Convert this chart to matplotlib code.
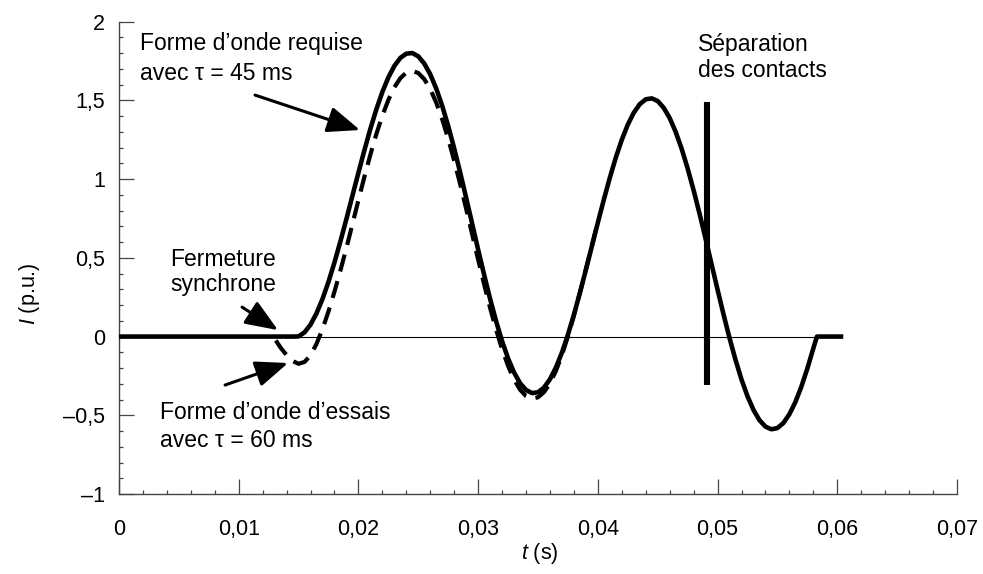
import matplotlib
matplotlib.use("Agg")
import matplotlib.pyplot as plt
from matplotlib.ticker import MultipleLocator, FixedLocator, FixedFormatter

plt.rcParams['font.family'] = ['Liberation Sans', 'DejaVu Sans']
plt.rcParams['mathtext.fontset'] = 'custom'
plt.rcParams['mathtext.it'] = 'Liberation Sans:italic'
plt.rcParams['mathtext.rm'] = 'Liberation Sans'

# ---- data (time in ms, current in p.u.) ----
solid_t_ms = [0.0,
    14.5, 15.0, 15.5, 16.0, 16.5, 17.0, 17.5, 18.0, 18.5, 19.0,
    19.5, 20.0, 20.5, 21.0, 21.5, 22.0, 22.5, 23.0, 23.5, 24.0,
    24.5, 25.0, 25.5, 26.0, 26.5, 27.0, 27.5, 28.0, 28.5, 29.0,
    29.5, 30.0, 30.5, 31.0, 31.5, 32.0, 32.5, 33.0, 33.5, 34.0,
    34.5, 35.0, 35.5, 36.0, 36.5, 37.0, 37.5, 38.0, 38.5, 39.0,
    39.5, 40.0, 40.5, 41.0, 41.5, 42.0, 42.5, 43.0, 43.5, 44.0,
    44.5, 45.0, 45.5, 46.0, 46.5, 47.0, 47.5, 48.0, 48.5, 49.0,
    49.5, 50.0, 50.5, 51.0, 51.5, 52.0, 52.5, 53.0, 53.5, 54.0,
    54.5, 55.0, 55.5, 56.0, 56.5, 57.0, 57.5, 58.0,
    58.3, 60.5]
solid_i = [0.0,
    0.000, 0.001, 0.027, 0.076, 0.148, 0.239, 0.348, 0.471, 0.606, 0.748,
    0.895, 1.041, 1.184, 1.320, 1.444, 1.554, 1.646, 1.719, 1.770, 1.797,
    1.801, 1.780, 1.734, 1.666, 1.575, 1.465, 1.337, 1.195, 1.042, 0.881,
    0.717, 0.552, 0.392, 0.239, 0.098, -0.029, -0.139, -0.228, -0.296, -0.339,
    -0.359, -0.354, -0.324, -0.271, -0.196, -0.101, 0.012, 0.139, 0.278, 0.424,
    0.574, 0.724, 0.870, 1.009, 1.137, 1.250, 1.346, 1.422, 1.476, 1.507,
    1.513, 1.496, 1.453, 1.388, 1.300, 1.193, 1.068, 0.929, 0.779, 0.621,
    0.459, 0.298, 0.140, -0.010, -0.148, -0.273, -0.379, -0.466, -0.531, -0.572,
    -0.589, -0.581, -0.549, -0.493, -0.416, -0.318, -0.203, -0.074,
    0.0, 0.0]

test_t_ms = [12.9,
    13.0, 13.5, 14.0, 14.5, 15.0, 15.5, 16.0, 16.5, 17.0, 17.5,
    18.0, 18.5, 19.0, 19.5, 20.0, 20.5, 21.0, 21.5, 22.0, 22.5,
    23.0, 23.5, 24.0, 24.5, 25.0, 25.5, 26.0, 26.5, 27.0, 27.5,
    28.0, 28.5, 29.0, 29.5, 30.0, 30.5, 31.0, 31.5, 32.0, 32.5,
    33.0, 33.5, 34.0, 34.5, 35.0, 35.5, 36.0, 36.5, 37.0, 37.5,
    38.0, 38.5, 39.0, 39.5, 40.0]
test_i = [0.0,
    -0.013, -0.071, -0.118, -0.155, -0.173, -0.161, -0.119, -0.046, 0.048, 0.160,
    0.286, 0.421, 0.564, 0.715, 0.866, 1.015, 1.156, 1.287, 1.403, 1.503,
    1.583, 1.641, 1.677, 1.688, 1.674, 1.635, 1.572, 1.486, 1.380, 1.256,
    1.117, 0.968, 0.811, 0.650, 0.489, 0.332, 0.182, 0.044, -0.080, -0.186,
    -0.273, -0.337, -0.378, -0.394, -0.386, -0.353, -0.297, -0.218, -0.117, 0.001,
    0.134, 0.277, 0.427, 0.578, 0.728]

separation_t_ms = 49.1
separation_i = [-0.31, 1.49]
zero_line_t_ms = [0.0, 58.3]

x_ticks = [0.0, 0.01, 0.02, 0.03, 0.04, 0.05, 0.06, 0.07]
x_labels = ['0', '0,01', '0,02', '0,03', '0,04', '0,05', '0,06', '0,07']
y_ticks = [-1.0, -0.5, 0.0, 0.5, 1.0, 1.5, 2.0]
y_labels = ['\u20131', '\u20130,5', '0', '0,5', '1', '1,5', '2']

# ---- figure ----
W, H = 983, 574
fig = plt.figure(figsize=(W / 100, H / 100), dpi=100)
ax = fig.add_axes([119 / W, 80 / H, (957 - 119) / W, (552.3 - 80) / H])

ms = 1e-3
ax.plot([t * ms for t in zero_line_t_ms], [0, 0], color='black', lw=0.8, zorder=2)
ax.plot([t * ms for t in solid_t_ms], solid_i, color='black', lw=3.3,
        solid_capstyle='butt', solid_joinstyle='round', zorder=3)
ax.plot([t * ms for t in test_t_ms], test_i, color='black', lw=3.0,
        linestyle=(5.5, (4.2, 2.4)), dash_capstyle='butt', zorder=4)
ax.plot([separation_t_ms * ms] * 2, separation_i, color='black', lw=4.4,
        solid_capstyle='butt', zorder=4)

ax.set_xlim(0, 0.07)
ax.set_ylim(-1, 2)

for s in ['top', 'right']:
    ax.spines[s].set_visible(False)
for s in ['left', 'bottom']:
    ax.spines[s].set_color('#444444')
    ax.spines[s].set_linewidth(1.0)

ax.xaxis.set_major_locator(FixedLocator(x_ticks))
ax.xaxis.set_major_formatter(FixedFormatter(x_labels))
ax.xaxis.set_minor_locator(MultipleLocator(0.002))
ax.yaxis.set_major_locator(FixedLocator(y_ticks))
ax.yaxis.set_major_formatter(FixedFormatter(y_labels))
ax.yaxis.set_minor_locator(MultipleLocator(0.1))

ax.tick_params(which='major', direction='in', length=10.5, width=0.9,
               color='#444444', labelsize=15.5)
ax.tick_params(axis='x', which='major', pad=18)
ax.tick_params(axis='y', which='major', pad=10)
ax.tick_params(which='minor', direction='in', length=3, width=0.9, color='#444444')

fig.text(540 / W, 1 - 553 / H, r'$\mathit{t}$ (s)', ha='center', va='center', fontsize=15.5)
fig.text(30 / W, 1 - 294 / H, r'$\mathit{I}$ (p.u.)', ha='center', va='center',
         fontsize=15.5, rotation=90)

fs = 16.5
ax.text(1.75 * ms, 1.820, 'Forme d\u2019onde requise', fontsize=fs, va='baseline', ha='left')
ax.text(1.75 * ms, 1.630, 'avec \u03c4 = 45 ms', fontsize=fs, va='baseline', ha='left')
ax.text(8.71 * ms, 0.448, 'Fermeture', fontsize=fs, va='baseline', ha='center')
ax.text(8.71 * ms, 0.289, 'synchrone', fontsize=fs, va='baseline', ha='center')
ax.text(3.43 * ms, -0.526, 'Forme d\u2019onde d\u2019essais', fontsize=fs, va='baseline', ha='left')
ax.text(3.43 * ms, -0.700, 'avec \u03c4 = 60 ms', fontsize=fs, va='baseline', ha='left')
ax.text(48.4 * ms, 1.816, 'S\u00e9paration', fontsize=fs, va='baseline', ha='left')
ax.text(48.4 * ms, 1.651, 'des contacts', fontsize=fs, va='baseline', ha='left')

arrow_kw = dict(arrowstyle='-|>,head_length=0.95,head_width=0.38', lw=2.2,
                color='black', mutation_scale=21, shrinkA=0, shrinkB=0)
ax.annotate('', xy=(20.13 * ms, 1.312), xytext=(11.36 * ms, 1.534), arrowprops=arrow_kw)
ax.annotate('', xy=(13.28 * ms, 0.041), xytext=(10.28 * ms, 0.187), arrowprops=arrow_kw)
ax.annotate('', xy=(14.12 * ms, -0.168), xytext=(8.86 * ms, -0.308), arrowprops=arrow_kw)

fig.savefig('out.png', dpi=100)
